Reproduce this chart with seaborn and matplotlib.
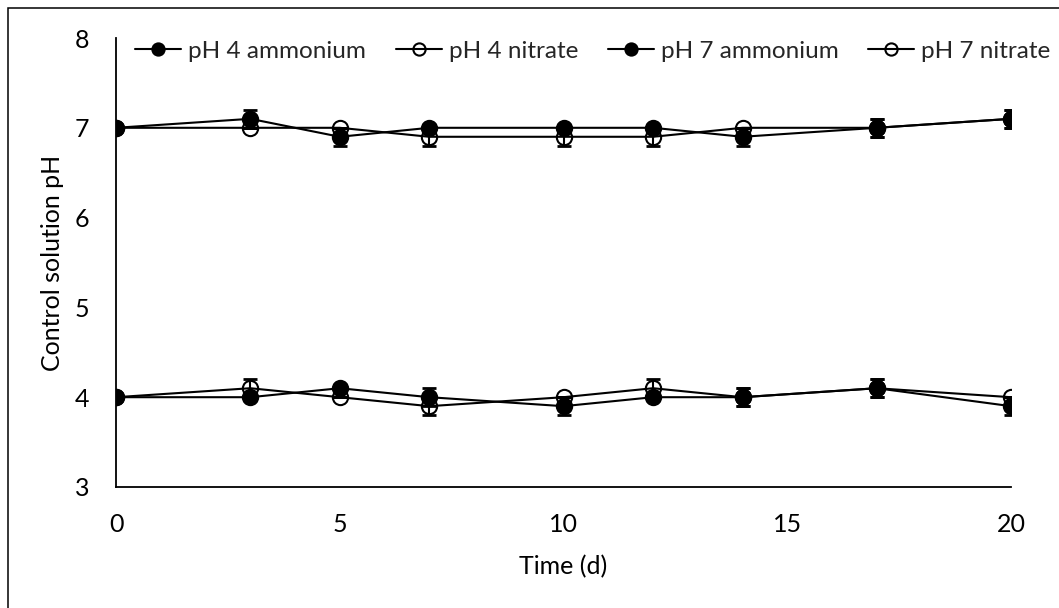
import matplotlib
matplotlib.use("Agg")
import matplotlib.pyplot as plt
import matplotlib.patches as mpatches
import seaborn as sns
import pandas as pd

# ---- data ----
days = [0, 3, 5, 7, 10, 12, 14, 17, 20]
series_names = ["pH 4 ammonium", "pH 4 nitrate", "pH 7 ammonium", "pH 7 nitrate"]
ph4_ammonium = [4.0, 4.0, 4.1, 4.0, 3.9, 4.0, 4.0, 4.1, 3.9]
ph4_nitrate = [4.0, 4.1, 4.0, 3.9, 4.0, 4.1, 4.0, 4.1, 4.0]
ph7_ammonium = [7.0, 7.1, 6.9, 7.0, 7.0, 7.0, 6.9, 7.0, 7.1]
ph7_nitrate = [7.0, 7.0, 7.0, 6.9, 6.9, 6.9, 7.0, 7.0, 7.1]
ph4_ammonium_err = [0, 0, 0, 0.1, 0.1, 0, 0.1, 0.1, 0.1]
ph4_nitrate_err = [0, 0.1, 0, 0.1, 0, 0.1, 0.1, 0.1, 0]
ph7_ammonium_err = [0, 0.1, 0.1, 0, 0, 0, 0.1, 0.1, 0.1]
ph7_nitrate_err = [0, 0, 0, 0.1, 0.1, 0.1, 0, 0.1, 0.1]
x_ticks = [0, 5, 10, 15, 20]
y_ticks = [3, 4, 5, 6, 7, 8]
x_label = "Time (d)"
y_label = "Control solution pH"

values = [ph4_ammonium, ph4_nitrate, ph7_ammonium, ph7_nitrate]
errors = [ph4_ammonium_err, ph4_nitrate_err, ph7_ammonium_err, ph7_nitrate_err]
filled = [True, False, True, False]

sns.set_theme(style="white")
plt.rcParams["font.family"] = ["Lato", "DejaVu Sans"]
FS = 18

W, H = 1059, 608
fig = plt.figure(figsize=(W / 100, H / 100), dpi=100)
ax_left, ax_right, ax_top, ax_bot = 116, 1011, 38, 487
ax = fig.add_axes([ax_left / W, 1 - ax_bot / H, (ax_right - ax_left) / W, (ax_bot - ax_top) / H])

for name, vals, errs, fill in zip(series_names, values, errors, filled):
    df = pd.DataFrame({"day": days, "ph": vals})
    sns.lineplot(data=df, x="day", y="ph", ax=ax, color="black", lw=1.5,
                 marker="o", markersize=11, markeredgewidth=1.5,
                 markerfacecolor="black" if fill else "none",
                 markeredgecolor="black", label=name, zorder=3)
    ax.errorbar(days, vals, yerr=errs, fmt="none", ecolor="black",
                elinewidth=1.5, capsize=4.8, capthick=2, zorder=3)

ax.set_xlim(0, 20)
ax.set_ylim(3, 8)
ax.set_xticks(x_ticks)
ax.set_yticks(y_ticks)
ax.tick_params(axis="both", length=0, labelsize=FS, colors="black", pad=19)
for s in ["top", "right"]:
    ax.spines[s].set_visible(False)
for s in ["left", "bottom"]:
    ax.spines[s].set_color("black")
    ax.spines[s].set_linewidth(1.3)
ax.grid(False)

ax.set_xlabel(x_label, fontsize=FS, color="black", va="center")
ax.set_ylabel(y_label, fontsize=FS, color="black", va="center")
ax.xaxis.set_label_coords(((ax_left + ax_right) / 2 - ax_left) / (ax_right - ax_left),
                          (ax_bot - 567) / (ax_bot - ax_top))
ax.yaxis.set_label_coords((53 - ax_left) / (ax_right - ax_left), 0.5)

leg = ax.legend(loc="center left",
                bbox_to_anchor=((135 - ax_left) / (ax_right - ax_left), (ax_bot - 51) / (ax_bot - ax_top)),
                ncol=4, frameon=False, fontsize=17.5, handlelength=1.9, handletextpad=0.3,
                columnspacing=1.2, borderpad=0, borderaxespad=0, markerscale=0.8)

# figure border (extends past right and bottom edges)
rect = mpatches.Rectangle((7.5 / W, -0.1), 1.2, 1 - 7.5 / H + 0.1, transform=fig.transFigure,
                          fill=False, edgecolor="black", lw=1.1, clip_on=False)
fig.patches.append(rect)

fig.savefig("out.png", dpi=100)
